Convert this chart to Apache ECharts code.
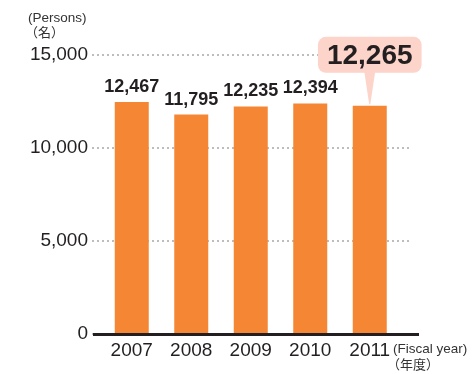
<!DOCTYPE html>
<html><head><meta charset="utf-8">
<script src="https://cdn.jsdelivr.net/npm/echarts@6/dist/echarts.min.js"></script>
<style>html,body{margin:0;padding:0;background:#fff}#c{width:474px;height:374px}</style>
</head><body><div id="c"></div>
<script>
const categories = ['2007', '2008', '2009', '2010', '2011'];
const values = [12467, 11795, 12235, 12394, 12265];
const yTicks = [0, 5000, 10000, 15000];
const highlightIndex = 4;

const FONT = '"Liberation Sans", Arial, Helvetica, sans-serif';
const CJK = '"Liberation Sans", "Noto Sans CJK JP", sans-serif';
const TXT = '#231f20';
const ORANGE = '#f58634';
const PINK = '#fcd4ca';

const chart = echarts.init(document.getElementById('c'), null, {renderer: 'canvas'});

const barData = values.map((v, i) => {
  if (i === highlightIndex) {
    return {
      value: v,
      label: {
        fontSize: 28, fontWeight: 'bold', color: TXT,
        backgroundColor: PINK, borderRadius: 8,
        padding: [5, 9, 3, 9], lineHeight: 28,
        distance: 33
      }
    };
  }
  return v;
});

chart.setOption({
  animation: false,
  grid: [
    {left: 92, right: 65, top: 55, bottom: 40},
    {left: 102, right: 74.5, top: 55, bottom: 40}
  ],
  xAxis: [
    {gridIndex: 0, type: 'category', data: categories, show: false},
    {gridIndex: 1, type: 'category', data: categories,
     axisLine: {show: false}, axisTick: {show: false},
     axisLabel: {fontSize: 19, color: TXT, fontFamily: FONT, margin: 7}}
  ],
  yAxis: [
    {gridIndex: 0, type: 'value', min: 0, max: 15000, interval: 5000,
     axisLine: {show: false}, axisTick: {show: false},
     axisLabel: {fontSize: 19, color: TXT, fontFamily: FONT, margin: 4,
       formatter: v => yTicks.includes(v) ? v.toLocaleString('en-US') : ''},
     splitLine: {show: true, lineStyle: {color: '#bdbdbd', width: 2, type: [2, 3]}}},
    {gridIndex: 1, type: 'value', min: 0, max: 15000, interval: 5000, show: false}
  ],
  series: [{
    type: 'bar', xAxisIndex: 1, yAxisIndex: 1,
    data: barData, barWidth: 34,
    itemStyle: {color: ORANGE},
    label: {show: true, position: 'top', distance: 6, fontSize: 18, fontWeight: 'bold',
      color: TXT, fontFamily: FONT,
      formatter: p => p.value.toLocaleString('en-US')},
    markPoint: {
      silent: true,
      symbol: 'path://M0,0 L10,0 L5.5,30 L4.5,30 Z',
      symbolSize: [11, 33],
      symbolOffset: [0, '-55%'],
      itemStyle: {color: PINK},
      label: {show: false},
      data: [{coord: [categories[highlightIndex], values[highlightIndex]]}]
    },
    z: 3
  }],
  graphic: [
    {type: 'line', shape: {x1: 93, y1: 334.5, x2: 419, y2: 334.5}, style: {stroke: TXT, lineWidth: 3}, z: 10},
    {type: 'text', left: 28, top: 11, style: {text: '(Persons)', fontSize: 13.5, fill: '#333', fontFamily: FONT}},
    {type: 'text', left: 25, top: 27, style: {text: '（名）', fontSize: 13, fill: '#333', fontFamily: CJK}},
    {type: 'text', left: 393, top: 342, style: {text: '(Fiscal year)', fontSize: 13.5, fill: '#333', fontFamily: FONT}},
    {type: 'text', left: 387, top: 359, style: {text: '（年度）', fontSize: 13, fill: '#333', fontFamily: CJK}}
  ]
});
</script></body></html>
